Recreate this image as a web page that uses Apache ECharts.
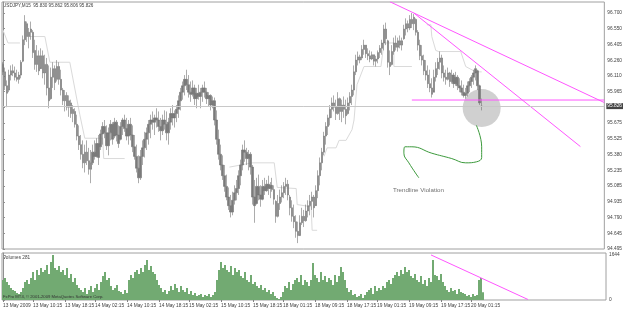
<!DOCTYPE html>
<html><head><meta charset="utf-8">
<script src="https://cdn.jsdelivr.net/npm/echarts@6/dist/echarts.min.js"></script>
<style>html,body{margin:0;padding:0;background:#fff}#c{width:625px;height:310px}</style>
</head><body><div id="c"></div>
<script>
// ---------------- data ----------------
const symbolTitle = 'USDJPY,M15  95.830 95.862 95.806 95.826';
const volumeTitle = 'Volumes 281';
const copyrightText = 'FxPro MT4, \u00a9 2001-2009 MetaQuotes Software Corp.';
const annotationText = 'Trendline Violation';
const priceTicks = ['94.495','94.645','94.790','94.935','95.085','95.235','95.380','95.525','95.675','','95.965','96.110','96.260','96.405','96.550','96.700'];
const priceMin = 94.495, priceStep = 0.147, priceMax = 96.8028;
const volumeTicks = ['0','1644'];
const dateLabels = ['13 May 2009','13 May 10:15','13 May 18:15','14 May 02:15','14 May 10:15','14 May 18:15','15 May 02:15','15 May 10:15','15 May 18:15','18 May 01:15','18 May 09:15','18 May 17:15','19 May 01:15','19 May 09:15','19 May 17:15','20 May 01:15'];
const dateSlots = [0,15,31,46,62,78,93,109,125,140,156,172,187,203,219,234];
const slotCount = 302;
const bidPrice = 95.826;

const opens = [96.22,96.15,96.02,95.98,96.12,96.16,96.14,96.10,96.08,96.12,
96.25,96.45,96.60,96.48,96.52,96.52,96.35,96.22,96.30,96.18,
96.30,96.14,96.22,96.00,95.90,96.10,96.18,96.08,96.20,96.08,
95.98,95.88,95.93,95.82,95.86,95.76,95.78,95.66,95.55,95.47,
95.38,95.30,95.40,95.32,95.24,95.30,95.40,95.36,95.48,95.45,
95.57,95.64,95.58,95.46,95.58,95.66,95.55,95.68,95.56,95.52,
95.64,95.70,95.62,95.55,95.66,95.56,95.45,95.36,95.25,95.16,
95.36,95.44,95.52,95.58,95.66,95.70,95.68,95.72,95.70,95.64,
95.60,95.70,95.66,95.58,95.68,95.76,95.72,95.76,95.80,95.88,
95.96,96.02,96.08,96.03,95.96,95.94,96.00,95.90,95.95,95.92,
95.96,96.00,95.96,95.90,95.93,95.84,95.88,95.70,95.52,95.38,
95.28,95.18,95.08,94.98,94.90,94.84,94.95,95.02,95.06,95.18,
95.28,95.42,95.40,95.34,95.38,95.26,94.98,94.92,95.08,95.00,
94.96,95.08,95.04,95.10,95.06,95.09,95.05,94.94,94.80,94.92,
94.98,95.02,95.08,95.10,94.98,94.88,94.80,94.75,94.66,94.62,
94.74,94.80,94.76,94.85,94.90,94.94,94.98,94.90,95.04,95.18,
95.30,95.40,95.55,95.64,95.72,95.80,95.86,95.82,95.76,95.90,
95.78,95.84,95.80,95.76,95.86,95.92,95.98,96.15,96.26,96.29,
96.28,96.36,96.40,96.32,96.30,96.27,96.31,96.25,96.27,96.33,
96.37,96.42,96.55,96.44,96.24,96.22,96.34,96.42,96.38,96.44,
96.40,96.46,96.55,96.60,96.56,96.64,96.60,96.64,96.52,96.40,
96.30,96.26,96.16,96.12,96.04,96.00,95.96,96.10,96.18,96.24,
96.28,96.14,96.10,96.08,96.14,96.06,96.12,96.04,96.10,96.02,
96.00,95.96,95.93,95.95,96.02,96.06,96.10,96.14,96.16,96.02,
95.830];
const highs = [96.24,96.19,96.07,96.17,96.21,96.22,96.20,96.17,96.15,96.26,
96.49,96.68,96.62,96.56,96.62,96.54,96.45,96.40,96.35,96.37,
96.35,96.31,96.28,96.21,96.19,96.24,96.21,96.26,96.24,96.17,
96.00,95.98,95.96,95.93,95.89,95.84,95.81,95.75,95.65,95.56,
95.51,95.47,95.51,95.44,95.42,95.47,95.51,95.53,95.56,95.61,
95.68,95.70,95.65,95.63,95.70,95.68,95.72,95.70,95.65,95.68,
95.72,95.75,95.72,95.70,95.72,95.65,95.56,95.47,95.37,95.42,
95.51,95.59,95.63,95.70,95.75,95.78,95.75,95.81,95.78,95.72,
95.75,95.79,95.78,95.72,95.81,95.84,95.79,95.84,95.93,96.00,
96.06,96.12,96.17,96.12,96.06,96.07,96.03,96.00,96.03,96.00,
96.03,96.06,96.00,95.96,95.94,95.92,95.91,95.79,95.61,95.47,
95.37,95.28,95.19,95.07,95.00,95.03,95.09,95.14,95.23,95.33,
95.47,95.51,95.44,95.42,95.40,95.28,95.14,95.16,95.19,95.09,
95.14,95.16,95.14,95.18,95.12,95.16,95.09,94.95,95.00,95.05,
95.09,95.12,95.16,95.14,95.00,94.95,94.91,94.81,94.75,94.81,
94.88,94.86,94.91,94.95,95.00,95.03,95.00,95.09,95.23,95.35,
95.44,95.59,95.68,95.75,95.84,95.91,95.93,95.89,95.96,95.91,
95.89,95.92,95.89,95.91,95.96,96.03,96.21,96.31,96.34,96.31,
96.40,96.45,96.40,96.37,96.35,96.34,96.31,96.30,96.35,96.40,
96.45,96.59,96.61,96.45,96.35,96.40,96.47,96.49,96.47,96.49,
96.47,96.59,96.65,96.63,96.68,96.70,96.69,96.65,96.54,96.45,
96.40,96.31,96.26,96.21,96.17,96.09,96.17,96.24,96.28,96.34,
96.31,96.21,96.17,96.19,96.15,96.17,96.14,96.15,96.12,96.09,
96.07,96.03,96.00,96.06,96.09,96.12,96.17,96.21,96.17,96.03,
95.90];
const lows = [96.12,95.98,95.82,95.96,96.07,96.11,96.07,96.06,96.04,96.09,
96.24,96.40,96.43,96.37,96.45,96.28,96.17,96.15,96.12,96.19,
96.09,96.03,95.93,95.81,95.89,96.00,95.98,96.06,96.03,95.93,
95.84,95.78,95.79,95.73,95.72,95.68,95.63,95.51,95.42,95.33,
95.25,95.21,95.28,95.19,95.11,95.28,95.33,95.35,95.28,95.42,
95.47,95.53,95.42,95.37,95.51,95.47,95.53,95.50,95.44,95.51,
95.56,95.59,95.51,95.47,95.51,95.40,95.33,95.21,95.11,95.14,
95.28,95.35,95.42,95.47,95.53,95.61,95.56,95.63,95.59,95.51,
95.56,95.61,95.51,95.47,95.61,95.65,95.63,95.68,95.72,95.79,
95.89,95.93,95.98,95.91,95.87,95.92,95.84,95.81,95.89,95.81,
95.87,95.91,95.85,95.83,95.79,95.81,95.65,95.47,95.33,95.23,
95.14,95.03,94.95,94.86,94.79,94.81,94.91,94.95,95.00,95.09,
95.23,95.31,95.28,95.23,95.19,94.91,94.74,94.91,94.95,94.89,
94.95,95.00,95.03,95.00,94.97,95.03,94.91,94.74,94.79,94.86,
94.93,94.97,95.00,94.95,94.81,94.75,94.69,94.60,94.55,94.63,
94.72,94.70,94.75,94.79,94.81,94.86,94.79,94.91,94.97,95.09,
95.23,95.37,95.47,95.56,95.65,95.72,95.78,95.70,95.75,95.70,
95.68,95.72,95.66,95.75,95.79,95.84,95.93,96.12,96.21,96.23,
96.26,96.31,96.28,96.26,96.24,96.26,96.21,96.20,96.23,96.28,
96.31,96.35,96.40,96.19,96.12,96.21,96.31,96.35,96.34,96.37,
96.35,96.45,96.49,96.52,96.54,96.56,96.54,96.49,96.35,96.26,
96.21,96.12,96.07,96.00,95.96,95.91,95.98,96.06,96.12,96.17,
96.09,96.06,96.03,96.07,96.01,96.04,96.00,96.02,95.98,95.96,
95.93,95.91,95.90,95.92,95.96,96.00,96.03,96.07,95.98,95.84,
95.79];
const closes = [96.15,96.02,95.95,96.12,96.16,96.14,96.10,96.08,96.12,96.24,
96.45,96.62,96.48,96.52,96.55,96.33,96.22,96.30,96.16,96.30,
96.14,96.22,96.00,95.88,96.10,96.18,96.05,96.20,96.08,95.98,
95.88,95.93,95.82,95.88,95.76,95.80,95.66,95.55,95.47,95.38,
95.30,95.40,95.32,95.24,95.30,95.40,95.36,95.48,95.35,95.57,
95.64,95.58,95.46,95.58,95.66,95.52,95.68,95.56,95.48,95.64,
95.70,95.62,95.55,95.66,95.56,95.45,95.36,95.25,95.16,95.36,
95.44,95.52,95.58,95.66,95.70,95.68,95.72,95.70,95.64,95.60,
95.70,95.66,95.58,95.68,95.76,95.72,95.76,95.80,95.88,95.96,
96.02,96.08,96.03,95.96,95.94,96.00,95.90,95.95,95.92,95.96,
96.00,95.96,95.90,95.93,95.84,95.88,95.70,95.52,95.38,95.28,
95.18,95.08,94.98,94.90,94.84,94.95,95.02,95.06,95.18,95.28,
95.42,95.40,95.34,95.38,95.26,94.98,94.90,95.08,95.00,94.96,
95.08,95.04,95.10,95.06,95.09,95.05,94.96,94.80,94.92,94.98,
95.02,95.08,95.10,95.00,94.88,94.80,94.75,94.66,94.62,94.74,
94.80,94.76,94.85,94.90,94.94,94.98,94.88,95.04,95.18,95.30,
95.40,95.55,95.64,95.72,95.80,95.86,95.82,95.76,95.90,95.78,
95.84,95.80,95.74,95.86,95.92,95.98,96.15,96.26,96.29,96.26,
96.36,96.40,96.32,96.30,96.27,96.31,96.25,96.27,96.33,96.37,
96.42,96.55,96.46,96.24,96.20,96.34,96.42,96.38,96.44,96.40,
96.44,96.55,96.60,96.56,96.64,96.60,96.66,96.52,96.40,96.30,
96.26,96.16,96.12,96.04,96.00,95.94,96.10,96.18,96.24,96.28,
96.14,96.10,96.08,96.14,96.06,96.12,96.04,96.10,96.02,96.00,
95.96,95.93,95.95,96.02,96.06,96.10,96.14,96.18,96.02,95.86,
95.826];
const volumes = [730,803,657,548,438,365,329,
256,219,292,438,657,730,584,
803,1022,730,1095,913,1168,1022,
1095,1278,949,1387,1644,1168,1095,
1241,1022,1095,913,1168,803,949,
657,803,548,438,365,292,438,
219,365,511,292,438,584,365,
657,876,1022,730,803,511,365,
438,548,329,292,219,365,256,
730,913,803,1022,1095,949,1168,
1022,1278,1460,1095,1241,1022,949,
730,548,438,292,365,219,329,
511,365,584,438,292,511,365,
292,438,219,329,183,256,146,
183,219,110,183,146,219,110,
183,292,730,1095,1387,1168,1278,
1095,1022,1241,913,1168,1022,1095,
876,803,1022,730,657,913,584,
657,511,438,548,365,438,292,
365,219,292,146,73,37,110,
292,511,438,657,365,584,730,
803,657,913,548,730,657,511,
730,1351,913,803,657,1022,730,
876,657,803,730,548,913,657,
876,1205,1022,730,438,292,365,
183,219,110,146,219,73,183,
292,365,438,219,511,329,438,
365,511,438,657,730,584,803,
913,1022,876,1095,949,1205,1022,
1095,876,803,949,730,657,876,
584,730,511,803,657,1460,913,
876,730,949,657,511,365,292,
438,329,365,219,402,292,256,
219,146,183,110,219,146,183,
730,803,281];

// light-grey stop line (bar index, price), one list per visible piece
const stopSegments = [
  [[0,96.54],[2.5,96.42],[8.5,96.42]],
  [[13.5,96.48],[21,96.48],[23.5,96.24],[33.5,96.24],[38.5,95.75],[41,95.53],[50,95.53],[50.5,95.34],[61,95.34]],
  [[113.5,95.26],[125,95.30],[136,95.30],[137.5,95.07],[147,95.06],[147.5,94.91],[154.5,94.89],[155,94.67],[157.5,94.67]],
  [[161,95.36],[162.5,95.44],[167,95.44],[168.5,95.51],[172,95.51],[175,95.61],[176,95.70],[177.5,96.03],[181,96.20],[189.5,96.20],[191,96.42],[196,96.42],[196,96.20],[205,96.20]],
  [[212.5,96.59],[214.5,96.59],[215,96.48],[217,96.35],[218.5,96.34],[229.5,96.34],[232,96.20],[237,96.15],[240,96.15]]
];
const trendUpper = [[194,96.805],[301.5,95.863]];
const trendLower = [[206,96.700],[289.5,95.452]];
const supportLine = [[205,95.887],[301.5,95.887]];
const volumeTrend = [[214,1644],[262.5,18]];
const violationCircle = [[240,95.812]];
const violationCurve = [[237.35,95.65],[240,95.45],[240,95.35],[237.5,95.31],[232,95.30],[225,95.34],[215,95.39],[205,95.45],[201.5,95.45],[201,95.39],[203.5,95.30],[208.5,95.16]];

// ---------------- chart ----------------
const slots = Array.from({length: slotCount}, (_, i) => String(i));
const candles = opens.map((o, i) => [o, closes[i], lows[i], highs[i]]);
const FONT = 'Liberation Sans';
const MAG = '#ff55ff';

const chart = echarts.init(document.getElementById('c'), null, {renderer: 'canvas'});
const lineSeries = (data, color, extra) => Object.assign({
  type: 'line', xAxisIndex: 2, yAxisIndex: 0, data: data, showSymbol: false, symbol: 'none',
  lineStyle: {color: color, width: 1}, silent: true, animation: false, z: 4
}, extra || {});

const series = [
  {type: 'scatter', xAxisIndex: 2, yAxisIndex: 0, data: violationCircle, symbol: 'circle', symbolSize: 38,
   itemStyle: {color: '#c4c4c4'}, silent: true, z: 1},
  {type: 'candlestick', xAxisIndex: 0, yAxisIndex: 0, data: candles, barWidth: 2, z: 3,
   itemStyle: {color: '#7a7a7a', color0: '#7a7a7a', borderColor: '#747474', borderColor0: '#747474', borderWidth: 0.6},
   markLine: {silent: true, symbol: ['none', 'none'], animation: false,
     lineStyle: {color: '#c8c8c8', type: 'solid', width: 1},
     label: {show: true, position: 'end', distance: 2, formatter: bidPrice.toFixed(3), fontSize: 4.8, fontFamily: FONT,
             color: '#ffffff', backgroundColor: '#444444', padding: [1, 1, 0, 1]},
     data: [{yAxis: bidPrice}]}}
];
stopSegments.forEach(seg => series.push(lineSeries(seg, '#dadada', {z: 2})));
series.push(lineSeries(trendUpper, MAG));
series.push(lineSeries(trendLower, MAG));
series.push(lineSeries(supportLine, MAG));
series.push(lineSeries(violationCurve, '#3c9a3c', {smooth: 0.45}));
series.push({type: 'bar', xAxisIndex: 1, yAxisIndex: 1, data: volumes, barWidth: 2,
  itemStyle: {color: '#72aa72'}, silent: true, z: 2});
series.push(lineSeries(volumeTrend, MAG, {xAxisIndex: 3, yAxisIndex: 1}));

const option = {
  animation: false,
  backgroundColor: '#ffffff',
  grid: [
    {left: 2, right: 19, top: 2, bottom: 61, show: true, borderColor: '#a0a0a0', borderWidth: 1, backgroundColor: '#ffffff'},
    {left: 2, right: 19, top: 253, bottom: 10, show: true, borderColor: '#a0a0a0', borderWidth: 1, backgroundColor: '#ffffff'}
  ],
  xAxis: [
    {type: 'category', gridIndex: 0, data: slots, boundaryGap: true, axisLine: {show: false}, axisTick: {show: false}, axisLabel: {show: false}, splitLine: {show: false}},
    {type: 'category', gridIndex: 1, data: slots, boundaryGap: true, axisLine: {show: false},
     axisTick: {show: true, length: 2, alignWithLabel: true, interval: (i) => dateSlots.includes(i), lineStyle: {color: '#808080'}},
     axisLabel: {show: true, interval: (i) => dateSlots.includes(i), formatter: (v, i) => dateLabels[dateSlots.indexOf(i)] || '',
       align: 'left', margin: 3, fontSize: 4.8, fontFamily: FONT, color: '#404040'}, splitLine: {show: false}},
    {type: 'value', gridIndex: 0, min: -0.5, max: slotCount - 0.5, show: false},
    {type: 'value', gridIndex: 1, min: -0.5, max: slotCount - 0.5, show: false}
  ],
  yAxis: [
    {type: 'value', gridIndex: 0, position: 'right', min: priceMin, max: priceMax, interval: priceStep,
     axisLine: {show: true, lineStyle: {color: '#909090'}}, axisTick: {show: true, length: 2, lineStyle: {color: '#909090'}},
     axisLabel: {show: true, margin: 3, fontSize: 4.8, fontFamily: FONT, color: '#404040', showMaxLabel: false,
       formatter: (v) => priceTicks[Math.round((v - priceMin) / priceStep)] || ''},
     splitLine: {show: false}},
    {type: 'value', gridIndex: 1, position: 'right', min: 0, max: 1715, interval: 1644,
     axisLine: {show: true, lineStyle: {color: '#909090'}}, axisTick: {show: true, length: 2, lineStyle: {color: '#909090'}},
     axisLabel: {show: true, margin: 3, fontSize: 4.8, fontFamily: FONT, color: '#404040', showMaxLabel: false,
       formatter: (v) => volumeTicks[Math.round(v / 1644)] || ''},
     splitLine: {show: false}}
  ],
  graphic: [
    {type: 'text', left: 3, top: 3, silent: true, style: {text: symbolTitle, fontSize: 4.6, fontFamily: FONT, fill: '#404040'}},
    {type: 'text', left: 3, top: 255, silent: true, style: {text: volumeTitle, fontSize: 4.7, fontFamily: FONT, fill: '#404040'}},
    {type: 'text', left: 3, top: 295, silent: true, z: 10, style: {text: copyrightText, fontSize: 4.2, fontFamily: FONT, fill: '#333333'}},
    {type: 'text', left: 393, top: 187, silent: true, style: {text: annotationText, fontSize: 6.2, fontFamily: FONT, fill: '#707070'}}
  ],
  series: series
};
chart.setOption(option);
</script>
</body></html>
